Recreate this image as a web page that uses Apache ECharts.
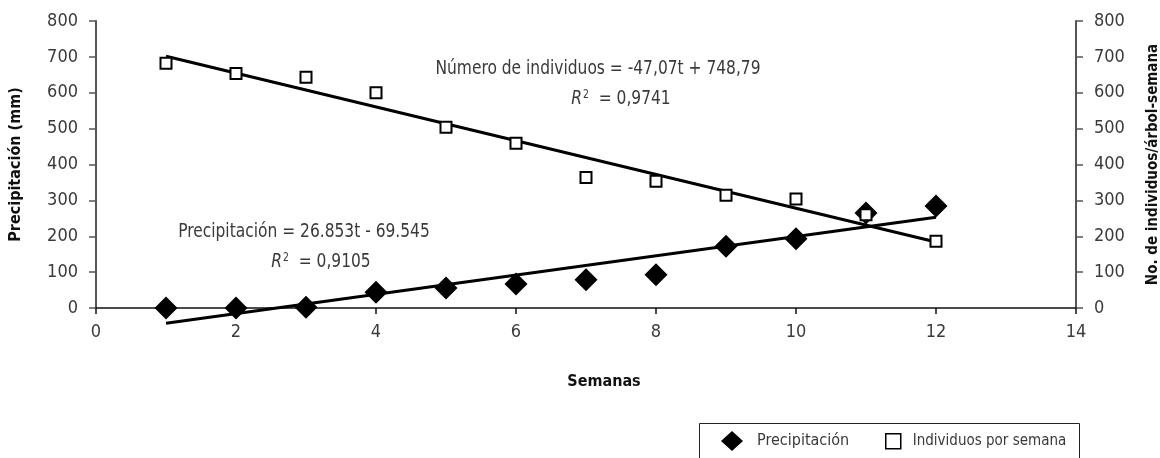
<!DOCTYPE html>
<html>
<head>
<meta charset="utf-8">
<title>Precipitación e individuos por semana</title>
<script src="https://cdn.jsdelivr.net/npm/echarts@6/dist/echarts.min.js"></script>
<style>
  html, body { margin: 0; padding: 0; background: #fff; }
  #chart { width: 1160px; height: 458px; }
</style>
</head>
<body>
<div id="chart"></div>
<script>
// Weekly observations
const semanas = [1, 2, 3, 4, 5, 6, 7, 8, 9, 10, 11, 12];
const precipitacion = [0, 0, 2, 44, 56, 67, 79, 93, 172, 193, 265, 284];
const individuos = [682, 654, 643, 600, 504, 459, 364, 353, 314, 304, 260, 186];

// Linear trend coefficients [slope, intercept]
const ajustePrecip = [26.853, -69.545];
const ajusteIndiv = [-47.07, 748.79];

const xTicks = { min: 0, max: 14, interval: 2 };
const yTicks = { min: 0, max: 800, interval: 100 };

const FONT = '"DejaVu Sans Condensed", "Liberation Sans Narrow", sans-serif';
const GRAY = '#3a3a3a';

function trend(coef) {
  const t0 = semanas[0], t1 = semanas[semanas.length - 1];
  return [[t0, coef[0] * t0 + coef[1]], [t1, coef[0] * t1 + coef[1]]];
}

// narrow annotation text, squeezed horizontally around its centre
function note(x, y, text) {
  return {
    type: 'text', x: x, y: y, scaleX: 0.86, silent: true,
    style: {
      text: text, fill: GRAY, font: '20px ' + FONT,
      align: 'center', verticalAlign: 'middle'
    }
  };
}

function r2(x, y, value) {
  return {
    type: 'text', x: x, y: y, scaleX: 0.86, silent: true,
    style: {
      text: '{r|R}{s|2}{t|  = ' + value + '}', fill: GRAY,
      align: 'center', verticalAlign: 'middle',
      rich: {
        r: { fontFamily: FONT, fontSize: 20, fontStyle: 'italic', fill: GRAY },
        s: { fontFamily: FONT, fontSize: 12, fill: GRAY, verticalAlign: 'top', padding: [0, 0, 8, 1] },
        t: { fontFamily: FONT, fontSize: 20, fill: GRAY }
      }
    }
  };
}

const chart = echarts.init(document.getElementById('chart'));

const yAxisBase = {
  type: 'value',
  min: yTicks.min, max: yTicks.max, interval: yTicks.interval,
  splitLine: { show: false },
  axisLine: { show: true, lineStyle: { color: '#555', width: 2 } },
  axisTick: { show: true, length: 7, lineStyle: { color: '#555', width: 1.5 } },
  axisLabel: { color: GRAY, fontFamily: FONT, fontSize: 18, margin: 18 },
  nameLocation: 'middle',
  nameRotate: 90,
  nameTextStyle: { color: '#111', fontFamily: FONT, fontSize: 16, fontWeight: 'bold' }
};

chart.setOption({
  animation: false,
  backgroundColor: '#fff',
  grid: { left: 96, right: 84, top: 21, bottom: 150, outerBoundsMode: 'none', containLabel: false },
  xAxis: {
    type: 'value',
    min: xTicks.min, max: xTicks.max, interval: xTicks.interval,
    splitLine: { show: false },
    axisLine: { show: true, onZero: false, lineStyle: { color: '#111', width: 1.5 } },
    axisTick: { show: true, length: 6, lineStyle: { color: '#111', width: 1.5 } },
    axisLabel: { color: GRAY, fontFamily: FONT, fontSize: 18, margin: 15 }
  },
  yAxis: [
    Object.assign({}, yAxisBase, {
      position: 'left',
      name: 'Precipitación (mm)',
      nameGap: 72
    }),
    Object.assign({}, yAxisBase, {
      position: 'right',
      name: 'No. de individuos/árbol-semana',
      nameGap: 70,
      nameTextStyle: { color: '#111', fontFamily: FONT, fontSize: 15, fontWeight: 'bold' }
    })
  ],
  legend: [
    {
      data: [{ name: 'Precipitación', icon: 'diamond' }],
      left: 716, top: 426,
      itemWidth: 22, itemHeight: 20,
      itemStyle: { color: '#000', opacity: 1 },
      textStyle: { color: GRAY, fontFamily: FONT, fontSize: 16, padding: [0, 0, 0, 9] },
      selectedMode: false
    },
    {
      data: [{ name: 'Individuos por semana', icon: 'rect' }],
      left: 880, top: 428,
      itemWidth: 15, itemHeight: 15,
      itemStyle: { color: '#fff', borderColor: '#000', borderWidth: 1.5, opacity: 1 },
      textStyle: { color: GRAY, fontFamily: FONT, fontSize: 15, padding: [0, 0, 0, 7] },
      selectedMode: false
    }
  ],
  graphic: [
    {
      type: 'rect', left: 697, top: 421, silent: true,
      shape: { width: 380, height: 50 },
      style: { fill: 'none', stroke: '#222', lineWidth: 1 }
    },
    {
      type: 'text', x: 604, y: 382, silent: true,
      style: {
        text: 'Semanas', fill: '#111', font: 'bold 16px ' + FONT,
        align: 'center', verticalAlign: 'middle'
      }
    },
    note(598, 69, 'Número de individuos = -47,07t + 748,79'),
    r2(621, 99, '0,9741'),
    note(304, 232, 'Precipitación = 26.853t - 69.545'),
    r2(321, 262, '0,9105')
  ],
  series: [
    {
      name: 'Precipitación',
      type: 'scatter',
      yAxisIndex: 0,
      symbol: 'diamond',
      symbolSize: [23, 23],
      itemStyle: { color: '#000', opacity: 1 },
      data: semanas.map((t, i) => [t, precipitacion[i]]),
      clip: false,
      z: 2
    },
    {
      name: 'Tendencia precipitación',
      type: 'line',
      yAxisIndex: 0,
      showSymbol: false,
      symbol: 'none',
      clip: false,
      lineStyle: { color: '#000', width: 3 },
      data: trend(ajustePrecip),
      z: 3
    },
    {
      name: 'Tendencia individuos',
      type: 'line',
      yAxisIndex: 1,
      showSymbol: false,
      symbol: 'none',
      clip: false,
      lineStyle: { color: '#000', width: 3 },
      data: trend(ajusteIndiv),
      z: 3
    },
    {
      name: 'Individuos por semana',
      type: 'scatter',
      yAxisIndex: 1,
      symbol: 'rect',
      symbolSize: 11,
      itemStyle: { color: '#fff', borderColor: '#000', borderWidth: 2, opacity: 1 },
      data: semanas.map((t, i) => [t, individuos[i]]),
      clip: false,
      z: 4
    }
  ]
});
</script>
</body>
</html>
